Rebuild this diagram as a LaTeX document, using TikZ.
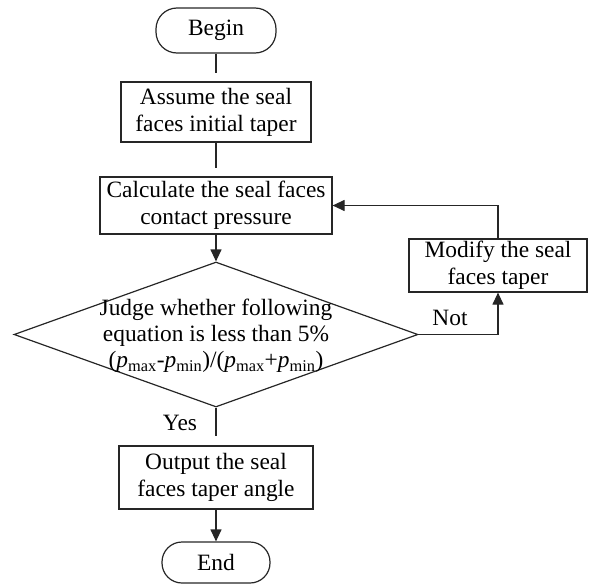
\documentclass[tikz,border=0pt]{standalone}
\usepackage{fontspec}
\setmainfont{Liberation Serif}
\usetikzlibrary{arrows.meta,shapes.geometric}
\begin{document}
\begin{tikzpicture}[x=1pt,y=-1pt,
  every node/.style={font=\fontsize{23.4}{27}\selectfont},
  line/.style={draw=black!85,line width=1.2pt},
  proc/.style={draw=black!85,line width=1.2pt,rectangle,inner sep=0pt,align=center},
  term/.style={draw=black!85,line width=1.2pt,rectangle,rounded corners=21pt,inner sep=0pt,align=center},
  arr/.style={line,-{Triangle[length=12pt,width=11pt]}},
  lbl/.style={inner sep=0pt}]
\useasboundingbox (0,0) rectangle (590,584);
\node[term,minimum width=120pt,minimum height=45pt] (begin) at (216,30.5) {Begin};
\node[proc,minimum width=190pt,minimum height=60pt] (assume) at (216,112) {Assume the seal\\faces initial taper};
\node[proc,minimum width=232pt,minimum height=57pt] (calc) at (216,205.5) {Calculate the seal faces\\contact pressure};
\node[draw=black!85,line width=1.2pt,diamond,inner sep=0pt,minimum width=404pt,minimum height=145pt] (judge) at (216,334.5) {};
\node[align=center,inner sep=0pt,font=\fontsize{23.4}{26}\selectfont] (judgetext) at (216,336) {Judge whether following\\equation is less than 5\%\\(\textit{p}\textsubscript{max}-\textit{p}\textsubscript{min})/(\textit{p}\textsubscript{max}+\textit{p}\textsubscript{min})};
\node[proc,minimum width=178pt,minimum height=53pt] (modify) at (498,265.5) {Modify the seal\\faces taper};
\node[proc,minimum width=194pt,minimum height=63pt] (output) at (216,477.5) {Output the seal\\faces taper angle};
\node[term,minimum width=108pt,minimum height=41pt,rounded corners=20pt] (end) at (216,562.5) {End};
\coordinate (c1) at (216,73);
\coordinate (c2) at (216,168);
\coordinate (c3) at (216,436);
\coordinate (turnA) at (498,334.5);
\coordinate (turnB) at (498,205.5);
\draw[line] (begin.south) -- (c1);
\draw[line] (assume.south) -- (c2);
\draw[arr] (calc.south) -- (judge.north);
\draw[arr] (judge.east) -- (turnA) -- (modify.south);
\draw[arr] (modify.north) -- (turnB) -- (calc.east);
\draw[line] (judge.south) -- (c3);
\draw[arr] (output.south) -- (end.north);
\node[lbl] (nottext) at (450,318) {Not};
\node[lbl] (yestext) at (180,423) {Yes};
\end{tikzpicture}
\end{document}
